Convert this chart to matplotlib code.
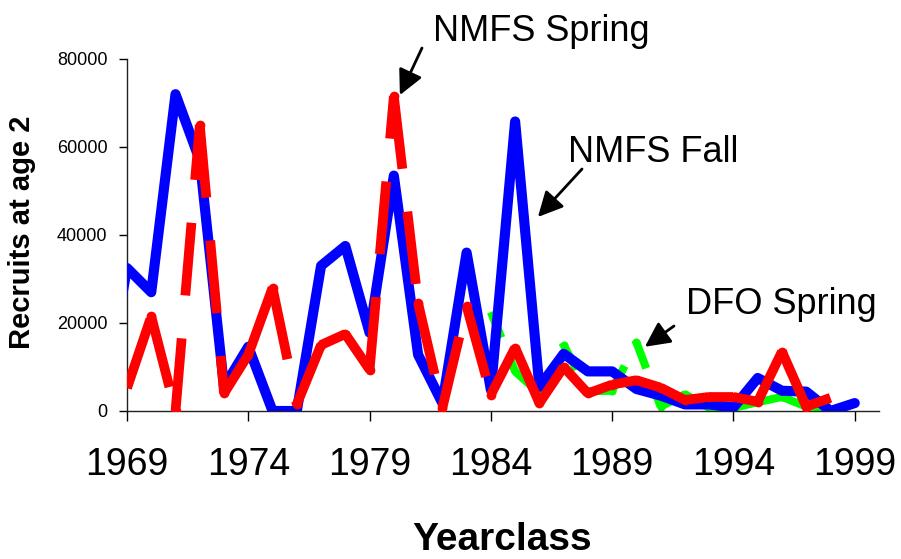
import numpy as np
import matplotlib
matplotlib.use('Agg')
import matplotlib.pyplot as plt
from matplotlib.collections import LineCollection

# --- dados ---
anos_fall = list(range(1968, 2000))
nmfs_fall = [1000, 32500, 27000, 72000, 57000, 5500, 14600, 0, 0, 33000, 37500,
             17800, 53500, 12800, 1800, 36000, 4800, 65800, 5500, 13000, 9000,
             9000, 5000, 3500, 1500, 1500, 800, 7500, 4600, 4400, 0, 1800]

anos_spring = list(range(1969, 1999))
nmfs_spring = [5200, 21500, 0, 65000, 4000, 12800, 28000, 1500, 15000, 17500,
               9400, 71500, 24500, 700, 23800, 3700, 14400, 1800, 10000, 4000,
               6000, 7000, 5300, 2500, 3200, 3200, 2100, 13500, 1000, 3000]

anos_dfo = list(range(1984, 1999))
dfo_spring = [22500, 9000, 4000, 15000, 4500, 4600, 15600, 1000, 3800, 700,
              700, 2000, 3200, 1000, 800]

xticks = [1969, 1974, 1979, 1984, 1989, 1994, 1999]
yticks = [0, 20000, 40000, 60000, 80000]

plt.rcParams['font.family'] = ['Liberation Sans', 'DejaVu Sans']
plt.rcParams['lines.scale_dashes'] = False


def linha_tracejada(ax, x, y, cor, lw, dashes, z):
    # o tracejado recomeça em cada vértice, como no gráfico original
    pts = np.column_stack([x, y])
    segs = [pts[i:i + 2] for i in range(len(pts) - 1)]
    lc = LineCollection(segs, colors=cor, linewidths=lw,
                        linestyles=[(0, dashes)], capstyle='butt', zorder=z)
    ax.add_collection(lc)
    ax.plot(x[1:-1], y[1:-1], 'o', ms=lw, color=cor, mew=0, zorder=z)


fig = plt.figure(figsize=(9.01, 5.59), dpi=100)
ax = fig.add_axes([0.14095, 0.26476, 0.83463, 0.62970])

linha_tracejada(ax, anos_dfo, dfo_spring, '#00FF00', 5.8, (20, 17), 2)
ax.plot(anos_fall, nmfs_fall, color='#0000FF', lw=7.3,
        solid_joinstyle='round', solid_capstyle='round', zorder=3)
linha_tracejada(ax, anos_spring, nmfs_spring, '#FF0000', 7.0, (52.5, 31), 4)

ax.set_xlim(1969, 2000)
ax.set_ylim(0, 80000)
ax.set_xticks(xticks)
ax.set_yticks(yticks)
ax.set_xticklabels([str(a) for a in xticks], fontsize=27)
ax.set_yticklabels([str(v) for v in yticks], fontsize=13)
ax.tick_params(axis='x', direction='out', length=7, width=1, pad=19)
ax.tick_params(axis='y', direction='out', length=6, width=1, pad=8)
for s in ['top', 'right']:
    ax.spines[s].set_visible(False)
for s in ['left', 'bottom']:
    ax.spines[s].set_linewidth(1)
    ax.spines[s].set_color('#222222')

fig.text(22 / 901, 1 - 232 / 559, 'Recruits at age 2', rotation=90,
         ha='center', va='center', fontsize=21, weight='bold')
fig.text(502 / 901, 1 - 550 / 559, 'Yearclass', ha='center', va='baseline',
         fontsize=28, weight='bold')

# --- anotações com setas ---
notas = [
    ('NMFS Spring', (433, 41), (422, 48), (1980.25, 71800)),
    ('NMFS Fall', (568, 162), (582, 169), (1985.94, 44100)),
    ('DFO Spring', (686, 314), (674, 326), (1990.35, 14600)),
]
for txt, (tx, ty), (ax0, ay0), ponta in notas:
    fig.text(tx / 901, 1 - ty / 559, txt, ha='left', va='baseline', fontsize=26)
    ax.annotate('', xy=ponta, xycoords='data',
                xytext=(ax0 / 901, 1 - ay0 / 559), textcoords='figure fraction',
                arrowprops=dict(arrowstyle='-|>', color='k', lw=2,
                                mutation_scale=38, shrinkA=0, shrinkB=0),
                annotation_clip=False, zorder=6)

fig.savefig('out.png', dpi=100)
